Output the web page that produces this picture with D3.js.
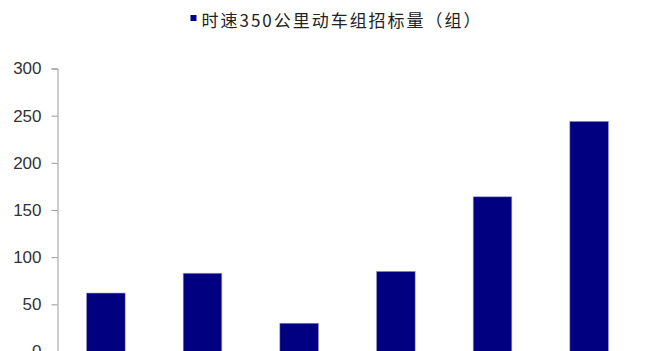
<!DOCTYPE html>
<html>
<head>
<meta charset="utf-8">
<script src="https://cdn.jsdelivr.net/npm/d3@7"></script>
<style>
  html, body { margin: 0; padding: 0; background: #fff; overflow: hidden; }
</style>
</head>
<body>
<svg id="chart" width="649" height="400"></svg>
<script>
// categories are below the visible area in the reference
const categories = ["2011", "2012", "2013", "2014", "2015", "2016"];
const values = [62, 83, 30, 85, 164, 244];
const yTicks = [0, 50, 100, 150, 200, 250, 300];
const seriesName = "时速350公里动车组招标量（组）";

const svg = d3.select("#chart");
const margin = {top: 68.5, left: 57.5, right: 12, bottom: 48.5};
const width = +svg.attr("width") - margin.left - margin.right;
const height = +svg.attr("height") - margin.top - margin.bottom;

const x = d3.scaleBand()
    .domain(categories)
    .range([0, 580])
    .paddingInner(0.6)
    .paddingOuter(0.3);
const y = d3.scaleLinear().domain([0, 300]).range([height, 0]);

const g = svg.append("g")
    .attr("transform", `translate(${margin.left},${margin.top})`);

const yAxis = g.append("g")
    .call(d3.axisLeft(y).tickValues(yTicks).tickSize(6).tickPadding(10).tickFormat(d3.format("d")));
yAxis.select(".domain").attr("stroke", "#999");
yAxis.selectAll(".tick line").attr("stroke", "#999");
yAxis.selectAll("text")
    .attr("fill", "#333")
    .attr("font-family", "Liberation Sans, Arial, sans-serif")
    .attr("font-size", 17);

g.selectAll(".bar")
    .data(values)
    .join("rect")
    .attr("class", "bar")
    .attr("x", (d, i) => x(categories[i]))
    .attr("y", d => y(d))
    .attr("width", x.bandwidth())
    .attr("height", d => height - y(d))
    .attr("fill", "#000080")
    .attr("stroke", "#a0a0d0")
    .attr("stroke-width", 0.6);

const legend = svg.append("g").attr("transform", "translate(190.5,15)");
legend.append("rect")
    .attr("width", 6)
    .attr("height", 6)
    .attr("fill", "#000080");
legend.append("text")
    .attr("x", 11)
    .attr("y", 11.5)
    .attr("fill", "#222")
    .attr("font-family", "Noto Sans CJK SC, sans-serif")
    .attr("font-size", 17)
    .attr("textLength", 279)
    .text(seriesName);
</script>
</body>
</html>
